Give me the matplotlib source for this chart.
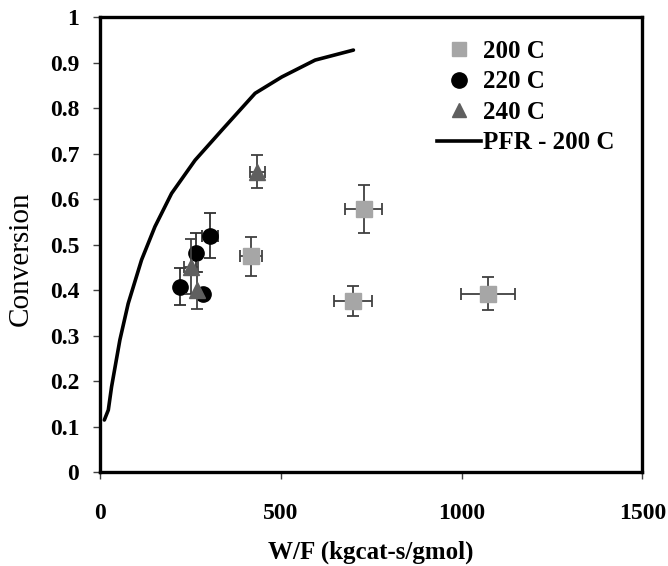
import matplotlib
matplotlib.use("Agg")
import matplotlib.pyplot as plt

# 200 C data
x200 = [417, 729, 699, 1073]
y200 = [0.475, 0.578, 0.377, 0.393]
xe200 = [30, 52, 52, 74]
ye200 = [0.043, 0.053, 0.033, 0.036]

# 220 C data
x220 = [221, 266, 304, 286]
y220 = [0.408, 0.483, 0.520, 0.392]
xe220 = [0, 0, 22, 0]
ye220 = [0.040, 0.042, 0.049, 0.0]

# 240 C data
x240 = [251, 268, 435]
y240 = [0.452, 0.400, 0.661]
xe240 = [20, 0, 21]
ye240 = [0.060, 0.040, 0.037]

# PFR model curve
x_pfr = [12, 23, 32, 55, 78, 115, 152, 198, 263, 337, 429, 503, 595, 701]
y_pfr = [0.115, 0.137, 0.188, 0.291, 0.371, 0.467, 0.540, 0.613, 0.686, 0.752, 0.833, 0.869, 0.906, 0.928]

xticks = [0, 500, 1000, 1500]
yticks = [0, 0.1, 0.2, 0.3, 0.4, 0.5, 0.6, 0.7, 0.8, 0.9, 1]
ytick_labels = ["0", "0.1", "0.2", "0.3", "0.4", "0.5", "0.6", "0.7", "0.8", "0.9", "1"]

plt.rcParams['font.family'] = ['Liberation Serif', 'DejaVu Serif']
plt.rcParams['font.weight'] = 'bold'

fig = plt.figure(figsize=(6.68, 5.66), dpi=100)
ax = fig.add_axes([0.1497, 0.1655, 0.9615 - 0.1497, 0.9694 - 0.1655])

c200 = '#a6a6a6'
c220 = '#000000'
c240 = '#5f5f5f'

ax.plot(x_pfr, y_pfr, color='black', lw=2.6, solid_capstyle='round', zorder=2)

ax.errorbar(x200, y200, xerr=xe200, yerr=ye200, fmt='none', ecolor='#404040',
            elinewidth=1.3, capsize=4, capthick=1.3, zorder=3)
ax.plot(x200, y200, 's', color=c200, ms=11, zorder=4)

ax.errorbar(x220, y220, xerr=xe220, yerr=ye220, fmt='none', ecolor='#303030',
            elinewidth=1.3, capsize=4, capthick=1.3, zorder=3)
ax.plot(x220, y220, 'o', color=c220, ms=11, zorder=4)

ax.errorbar(x240, y240, xerr=xe240, yerr=ye240, fmt='none', ecolor='#404040',
            elinewidth=1.3, capsize=4, capthick=1.3, zorder=5)
ax.plot(x240, y240, '^', color=c240, ms=11, zorder=6)

# legend handles
h1, = ax.plot([], [], 's', color=c200, ms=10, label='200 C')
h2, = ax.plot([], [], 'o', color=c220, ms=11, label='220 C')
h3, = ax.plot([], [], '^', color=c240, ms=10, label='240 C')
h4, = ax.plot([], [], '-', color='black', lw=2.6, label='PFR - 200 C')
ax.legend(handles=[h1, h2, h3, h4], loc='upper left', bbox_to_anchor=(0.589, 0.989),
          frameon=False, fontsize=18, handlelength=1.75, handletextpad=0.1,
          labelspacing=0.3, borderaxespad=0.3)

ax.set_xlim(0, 1500)
ax.set_ylim(0, 1)
ax.set_xticks(xticks)
ax.set_xticklabels([str(v) for v in xticks])
ax.set_yticks(yticks)
ax.set_yticklabels(ytick_labels)
ax.tick_params(axis='both', direction='out', length=5, width=1, labelsize=17,
               color='#404040')
ax.tick_params(axis='x', pad=17)
ax.tick_params(axis='y', pad=10)
for s in ax.spines.values():
    s.set_linewidth(2.4)

ax.set_xlabel('W/F (kgcat-s/gmol)', fontsize=18, fontweight='bold', labelpad=12)
ax.set_ylabel('Conversion', fontsize=21, fontweight='normal')
ax.yaxis.set_label_coords(-0.122, 0.469)

fig.savefig('out.png', dpi=100)
